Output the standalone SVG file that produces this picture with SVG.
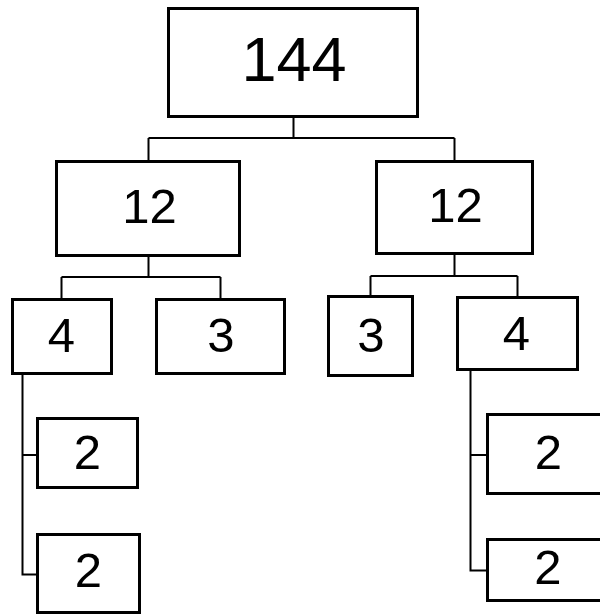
<svg xmlns="http://www.w3.org/2000/svg" width="600" height="615" viewBox="0 0 600 615">
<style>
.box{fill:#fff;stroke:#000;stroke-width:3}
.lbl{font-family:"Liberation Sans",Arial,sans-serif;font-size:49px;fill:#000;text-anchor:middle}
.big{font-size:63px}
.con{fill:none;stroke:#000;stroke-width:2}
</style>
<rect width="600" height="615" fill="#fff"/>
<g id="connectors">
<path class="con" d="M293.5 117V138M148.5 138H454.5M148.5 138V160M454.5 138V160"/>
<path class="con" d="M148.5 257V277M61.5 277H220.5M61.5 277V299M220.5 277V299"/>
<path class="con" d="M454.5 254V276M370.5 276H517.5M370.5 276V296M517.5 276V296"/>
<path class="con" d="M22.5 374V574.5H36M22.5 455H36"/>
<path class="con" d="M470.5 371V570.5H486M470.5 455H486"/>
</g>
<g id="n144"><rect class="box" x="168.5" y="8.5" width="249" height="108"/><text class="lbl big" x="294" y="81">144</text></g>
<g id="n12a"><rect class="box" x="56.5" y="161.5" width="183" height="94"/><text class="lbl" x="149.5" y="222.5">12</text></g>
<g id="n12b"><rect class="box" x="376.5" y="161.5" width="156" height="92"/><text class="lbl" x="455.5" y="222">12</text></g>
<g id="n4a"><rect class="box" x="12.5" y="299.5" width="99" height="74"/><text class="lbl" x="61.5" y="352">4</text></g>
<g id="n3a"><rect class="box" x="156.5" y="299.5" width="128" height="74"/><text class="lbl" x="221" y="352">3</text></g>
<g id="n3b"><rect class="box" x="328.5" y="296.5" width="84" height="79"/><text class="lbl" x="371" y="352">3</text></g>
<g id="n4b"><rect class="box" x="457.5" y="297.5" width="120" height="72"/><text class="lbl" x="516.5" y="350">4</text></g>
<g id="n2a"><rect class="box" x="37.5" y="418.5" width="100" height="69"/><text class="lbl" x="87.5" y="468.5">2</text></g>
<g id="n2b"><rect class="box" x="37.5" y="534.5" width="102" height="78"/><text class="lbl" x="88.5" y="586.5">2</text></g>
<g id="n2c"><rect class="box" x="487.5" y="414.5" width="125" height="79"/><text class="lbl" x="548.5" y="468.5">2</text></g>
<g id="n2d"><rect class="box" x="487.5" y="539.5" width="125" height="61"/><text class="lbl" x="548" y="584">2</text></g>
</svg>
